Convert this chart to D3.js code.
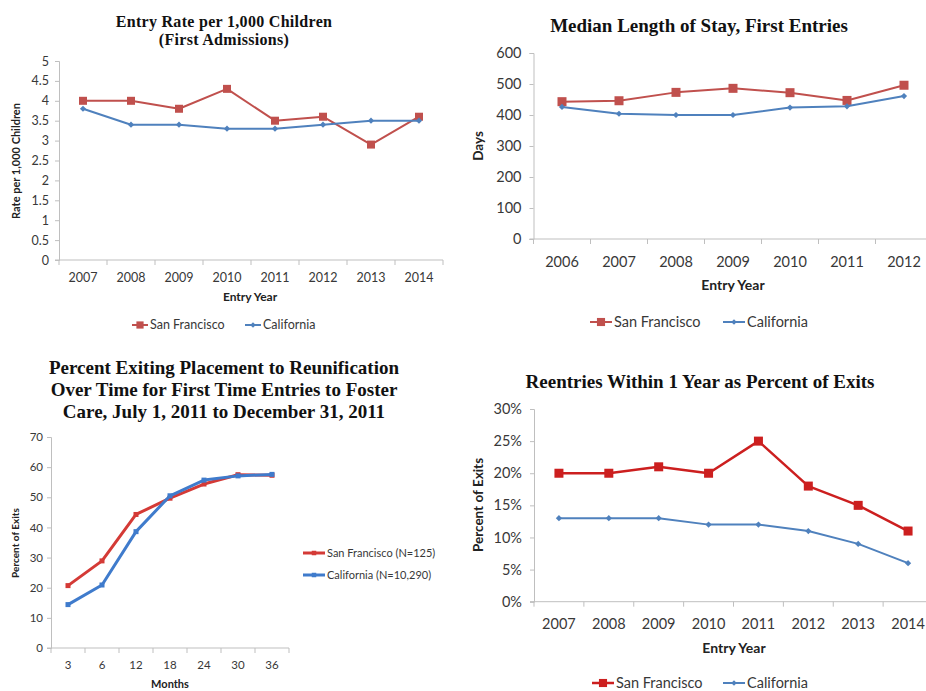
<!DOCTYPE html>
<html>
<head>
<meta charset="utf-8">
<script src="https://cdn.jsdelivr.net/npm/d3@7"></script>
<style>
  html, body { margin: 0; padding: 0; background: #fff; }
  svg { display: block; }
</style>
</head>
<body>
<svg id="chart" width="926" height="691"></svg>
<script>
// ---- Entry rate per 1,000 children (first admissions) ----
const entryYears = ["2007", "2008", "2009", "2010", "2011", "2012", "2013", "2014"];
const entryRateSF = [4.0, 4.0, 3.8, 4.3, 3.5, 3.6, 2.9, 3.6];
const entryRateCA = [3.8, 3.4, 3.4, 3.3, 3.3, 3.4, 3.5, 3.5];
const entryRateTicks = [0, 0.5, 1, 1.5, 2, 2.5, 3, 3.5, 4, 4.5, 5];

// ---- Median length of stay, first entries (days) ----
const stayYears = ["2006", "2007", "2008", "2009", "2010", "2011", "2012"];
const staySF = [443, 446, 473, 486, 472, 447, 496];
const stayCA = [426, 404, 400, 400, 424, 428, 461];
const stayTicks = [0, 100, 200, 300, 400, 500, 600];

// ---- Percent exiting to reunification over time ----
const months = ["3", "6", "12", "18", "24", "30", "36"];
const reunifySF = [20.7, 28.9, 44.3, 49.7, 54.4, 57.5, 57.3];
const reunifyCA = [14.4, 20.9, 38.6, 50.5, 55.7, 57.1, 57.6];
const reunifyTicks = [0, 10, 20, 30, 40, 50, 60, 70];

// ---- Reentries within 1 year as percent of exits ----
const reentryYears = ["2007", "2008", "2009", "2010", "2011", "2012", "2013", "2014"];
const reentrySF = [0.20, 0.20, 0.21, 0.20, 0.25, 0.18, 0.15, 0.11];
const reentryCA = [0.13, 0.13, 0.13, 0.12, 0.12, 0.11, 0.09, 0.06];
const reentryTicks = [0, 0.05, 0.10, 0.15, 0.20, 0.25, 0.30];

const svg = d3.select("#chart");
const SANS = "Lato, 'Open Sans', sans-serif";
const SERIF = "'Liberation Serif', 'Times New Roman', serif";
const AXIS = "#bfbfbf";
const TEXT = "#383838";

function marker(g, shape, x, y, size, color) {
  if (shape === "square") {
    g.append("rect").attr("x", x - size / 2).attr("y", y - size / 2)
      .attr("width", size).attr("height", size).attr("fill", color);
  } else if (shape === "diamond") {
    g.append("path")
      .attr("d", d3.symbol(d3.symbolDiamond2, size * size * 0.5)())
      .attr("transform", `translate(${x},${y})`)
      .attr("fill", color);
  }
}

function drawChart(c) {
  const g = svg.append("g");
  const x = d3.scaleBand().domain(c.cats).range([c.x0, c.x1]).padding(0);
  const y = d3.scaleLinear().domain([c.ticks[0], c.ticks[c.ticks.length - 1]]).range([c.y0, c.y1]);
  const cx = d => x(d) + x.bandwidth() / 2;

  // title
  c.title.forEach((t, i) => {
    g.append("text").attr("x", c.titleX).attr("y", c.titleY + i * c.titleLH)
      .attr("text-anchor", "middle").attr("font-family", SERIF)
      .attr("font-weight", "bold").attr("font-size", c.titleSize)
      .attr("letter-spacing", c.titleSpacing || 0)
      .attr("fill", "#111").text(t);
  });

  // y axis
  const yAxis = d3.axisLeft(y).tickValues(c.ticks).tickSize(4).tickFormat(c.fmt);
  const ya = g.append("g").attr("transform", `translate(${c.x0},0)`).call(yAxis);
  ya.select(".domain").attr("stroke", AXIS);
  ya.selectAll(".tick line").attr("stroke", AXIS);
  ya.selectAll(".tick text").attr("font-family", SANS).attr("font-size", c.tickSize)
    .attr("fill", TEXT).attr("x", -c.yLabelGap);

  // x axis with ticks at category boundaries
  const xa = g.append("g").attr("transform", `translate(0,${c.y0})`);
  xa.append("line").attr("x1", c.x0 - 4).attr("x2", c.x1).attr("y1", 0).attr("y2", 0)
    .attr("stroke", AXIS);
  const bounds = c.cats.map(d => x(d)).concat([c.x1]);
  xa.selectAll("line.tk").data(bounds).join("line").attr("class", "tk")
    .attr("x1", d => d).attr("x2", d => d).attr("y1", 0).attr("y2", 5).attr("stroke", AXIS);
  xa.selectAll("text").data(c.cats).join("text")
    .attr("x", d => cx(d)).attr("y", c.xLabelY - c.y0)
    .attr("text-anchor", "middle").attr("font-family", SANS)
    .attr("font-size", c.tickSize).attr("fill", TEXT).text(d => d);

  // axis titles
  g.append("text").attr("x", c.xTitleX).attr("y", c.xTitleY).attr("text-anchor", "middle")
    .attr("font-family", SANS).attr("font-weight", "bold").attr("font-size", c.axisTitleSize)
    .attr("fill", "#222").text(c.xTitle);
  g.append("text").attr("transform", `translate(${c.yTitleX},${c.yTitleY}) rotate(-90)`)
    .attr("text-anchor", "middle").attr("font-family", SANS).attr("font-weight", "bold")
    .attr("font-size", c.yTitleSize).attr("fill", "#222").text(c.yTitle);

  // series
  c.series.forEach(s => {
    const line = d3.line().x((d, i) => cx(c.cats[i])).y(d => y(d));
    g.append("path").datum(s.values).attr("d", line).attr("fill", "none")
      .attr("stroke", s.color).attr("stroke-width", s.width).attr("stroke-linejoin", "round");
    s.values.forEach((v, i) => marker(g, s.shape, cx(c.cats[i]), y(v), s.size, s.color));
  });

  // legend
  c.series.forEach((s, i) => {
    const L = c.legend[i];
    g.append("line").attr("x1", L.x).attr("x2", L.x + c.legendLine)
      .attr("y1", L.y).attr("y2", L.y).attr("stroke", s.color).attr("stroke-width", s.width);
    marker(g, s.shape, L.x + c.legendLine / 2, L.y, s.size * 0.9, s.color);
    g.append("text").attr("x", L.x + c.legendLine + 2).attr("y", L.y)
      .attr("dy", "0.35em").attr("font-family", SANS).attr("font-size", c.legendSize)
      .attr("fill", TEXT).text(s.name);
  });
}

const RED = "#c0504d", BLUE = "#4f81bd";

drawChart({
  cats: entryYears, ticks: entryRateTicks, fmt: d3.format(""),
  x0: 59, x1: 443, y0: 260, y1: 61,
  title: ["Entry Rate per 1,000 Children", "(First Admissions)"],
  titleX: 224, titleY: 27, titleLH: 18, titleSize: 16, titleSpacing: 0.3,
  tickSize: 12.5, yLabelGap: 10, xLabelY: 282,
  xTitle: "Entry Year", xTitleX: 250, xTitleY: 301, axisTitleSize: 12,
  yTitle: "Rate per 1,000 Children", yTitleX: 20, yTitleY: 161, yTitleSize: 11,
  series: [
    { name: "San Francisco", values: entryRateSF, color: RED, width: 2, shape: "square", size: 8 },
    { name: "California", values: entryRateCA, color: BLUE, width: 2, shape: "diamond", size: 7 }
  ],
  legend: [{ x: 132, y: 325 }, { x: 245, y: 325 }], legendLine: 16, legendSize: 12.5
});

drawChart({
  cats: stayYears, ticks: stayTicks, fmt: d3.format(""),
  x0: 533.5, x1: 932.5, y0: 239, y1: 53,
  title: ["Median Length of Stay, First Entries"],
  titleX: 699, titleY: 32, titleLH: 18, titleSize: 19,
  tickSize: 14.5, yLabelGap: 12, xLabelY: 267,
  xTitle: "Entry Year", xTitleX: 733, xTitleY: 290, axisTitleSize: 14,
  yTitle: "Days", yTitleX: 483, yTitleY: 146, yTitleSize: 13.5,
  series: [
    { name: "San Francisco", values: staySF, color: RED, width: 2, shape: "square", size: 9 },
    { name: "California", values: stayCA, color: BLUE, width: 2, shape: "diamond", size: 7 }
  ],
  legend: [{ x: 590, y: 322 }, { x: 723, y: 322 }], legendLine: 22, legendSize: 14.5
});

drawChart({
  cats: months, ticks: reunifyTicks, fmt: d3.format(""),
  x0: 51, x1: 289, y0: 648, y1: 437,
  title: ["Percent Exiting Placement to Reunification",
          "Over Time for First Time Entries to Foster",
          "Care, July 1, 2011 to December 31, 2011"],
  titleX: 224, titleY: 374, titleLH: 22, titleSize: 19,
  tickSize: 11.5, yLabelGap: 8, xLabelY: 669,
  xTitle: "Months", xTitleX: 170, xTitleY: 688, axisTitleSize: 11,
  yTitle: "Percent of Exits", yTitleX: 19, yTitleY: 543, yTitleSize: 10,
  series: [
    { name: "San Francisco (N=125)", values: reunifySF, color: "#d43a36", width: 3, shape: "square", size: 5 },
    { name: "California (N=10,290)", values: reunifyCA, color: "#3f7bcc", width: 3, shape: "square", size: 5 }
  ],
  legend: [{ x: 303, y: 553 }, { x: 303, y: 575 }], legendLine: 22, legendSize: 11
});

drawChart({
  cats: reentryYears, ticks: reentryTicks, fmt: d3.format(".0%"),
  x0: 534, x1: 933, y0: 601.7, y1: 409,
  title: ["Reentries Within 1 Year as Percent of Exits"],
  titleX: 700, titleY: 388, titleLH: 18, titleSize: 19,
  tickSize: 14.5, yLabelGap: 12, xLabelY: 629,
  xTitle: "Entry Year", xTitleX: 734, xTitleY: 653, axisTitleSize: 14,
  yTitle: "Percent of Exits", yTitleX: 483, yTitleY: 505, yTitleSize: 13.5,
  series: [
    { name: "San Francisco", values: reentrySF, color: "#cc1f1f", width: 2.5, shape: "square", size: 9 },
    { name: "California", values: reentryCA, color: "#4f81bd", width: 2, shape: "diamond", size: 7 }
  ],
  legend: [{ x: 592, y: 683 }, { x: 723, y: 683 }], legendLine: 22, legendSize: 14.5
});
</script>
</body>
</html>
